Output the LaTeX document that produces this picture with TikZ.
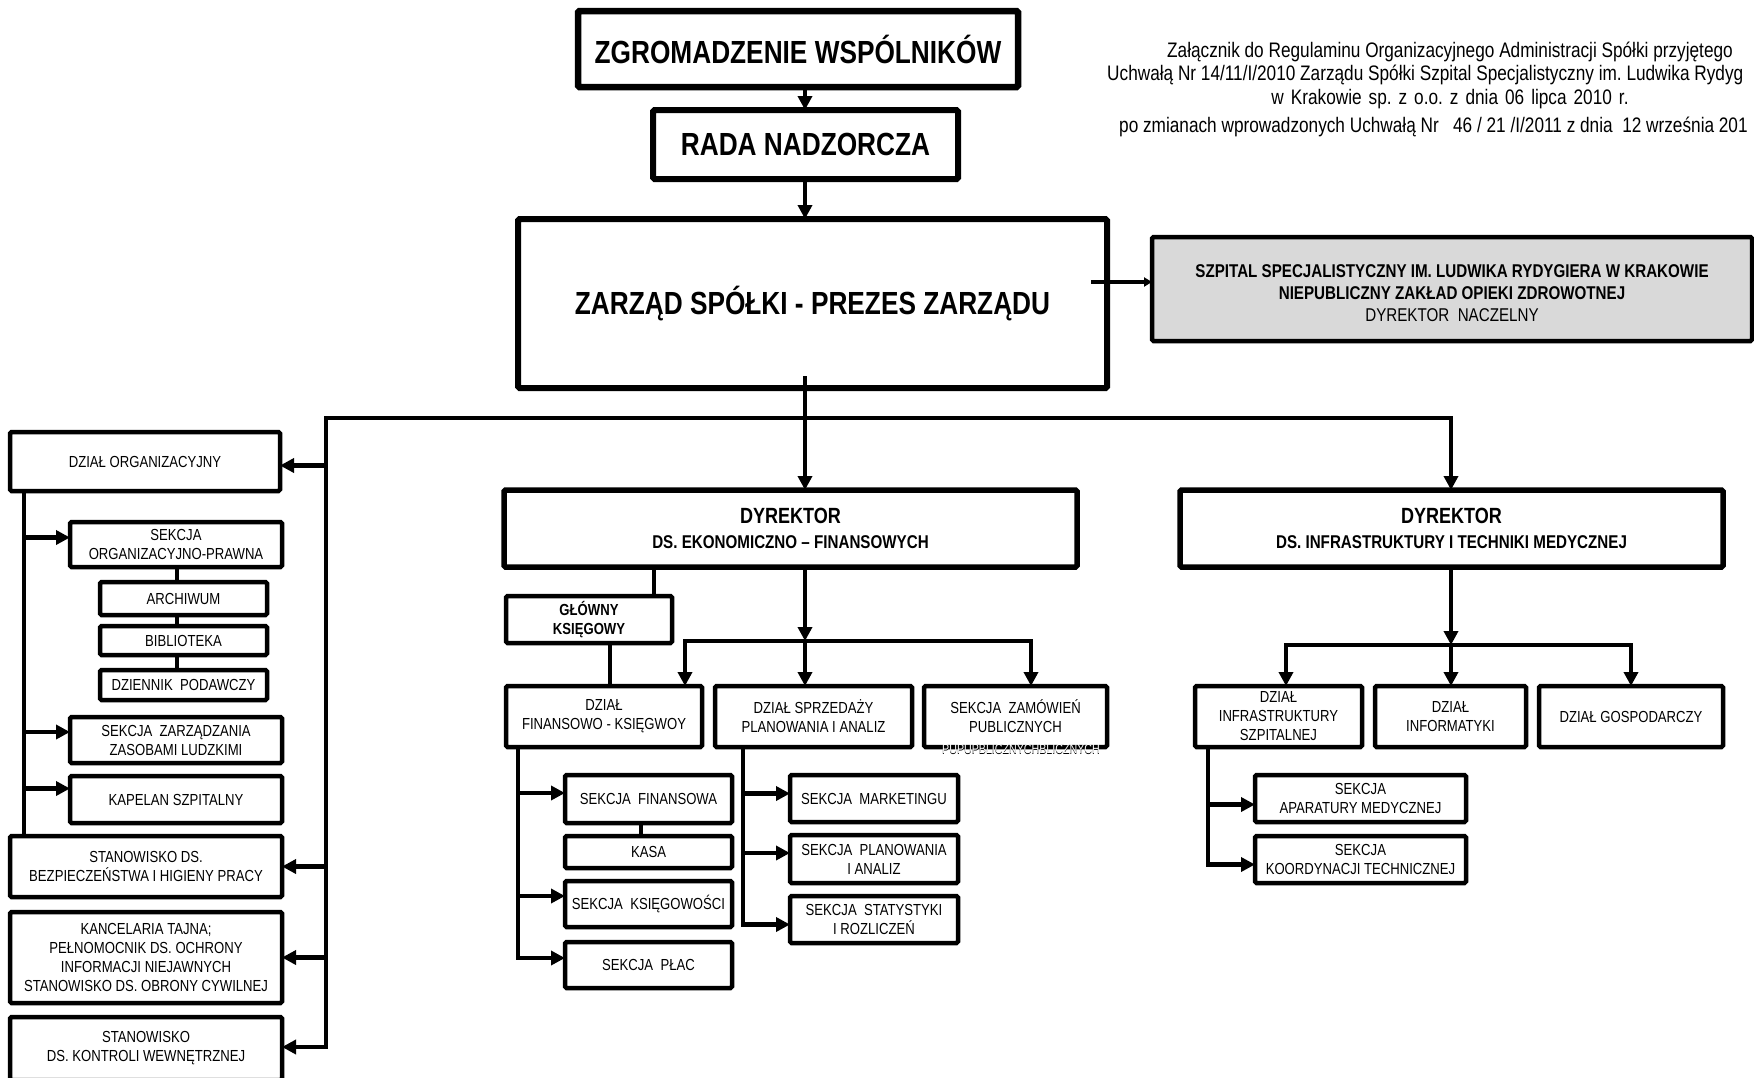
\documentclass[tikz,border=0pt]{standalone}
\usepackage{fontspec}
\setmainfont{Liberation Sans}[FakeStretch=0.82]
\usetikzlibrary{arrows.meta}
\frenchspacing
\newcommand{\orgbox}[7]{%
  \pgfmathsetmacro{\obw}{#5-#3}%
  \pgfmathsetmacro{\obh}{#6-#4}%
  \pgfmathsetmacro{\obx}{(#3+#5)/2}%
  \pgfmathsetmacro{\oby}{(#4+#6)/2}%
  \node[#1, minimum width=\obw pt, minimum height=\obh pt] (#2) at (\obx,\oby) {#7};%
}
\tikzset{
  bx/.style={draw, line width=4.5pt, fill=white, rounded corners=1.5pt, inner sep=0pt, outer sep=0pt, align=center, font=\fontsize{16}{19}\selectfont},
  bigbx/.style={bx, line width=6.5pt, font=\bfseries\fontsize{32}{36}\selectfont},
  dirbx/.style={bx, line width=5.5pt, font=\bfseries\fontsize{18.5}{25}\selectfont},
  graybx/.style={bx, fill=black!15, line width=4.5pt, font=\fontsize{18.5}{22.4}\selectfont},
  conn/.style={line width=4.5pt},
  arr/.style={conn, -{Triangle[length=14pt,width=14pt]}},
  hdr/.style={inner sep=0pt, font=\fontsize{21}{24}\selectfont},
}
\begin{document}
\begin{tikzpicture}[x=1pt, y=-1pt]
\useasboundingbox (0,0) rectangle (1754,1077);
\clip (0,0) rectangle (1754,1077);
\fill[white] (0,0) rectangle (1754,1077);

% header text
\node[hdr, anchor=base] (h1) at (1450,57) {Załącznik do Regulaminu Organizacyjnego Administracji Spółki przyjętego};
\node[hdr, anchor=base west] (h2) at (1107,80) {Uchwałą Nr 14/11/I/2010 Zarządu Spółki Szpital Specjalistyczny im. Ludwika Rydyg};
\node[hdr, anchor=base] (h3) at (1450,104) {\spaceskip=7pt w Krakowie sp. z o.o. z dnia 06 lipca 2010 r.};
\node[hdr, anchor=base west] (h4) at (1119,132) {po zmianach wprowadzonych Uchwałą Nr~~ 46 / 21 /I/2011 z dnia~ 12 września 201};

% top boxes
\orgbox{bigbx}{zgrom}{578}{11}{1018}{87}{ZGROMADZENIE WSPÓLNIKÓW}
\orgbox{bigbx, line width=6pt}{rada}{653}{110}{958}{179}{RADA NADZORCZA}
\orgbox{bigbx, line width=6pt}{zarzad}{518}{219}{1107}{388}{ZARZĄD SPÓŁKI - PREZES ZARZĄDU}
\orgbox{graybx}{gray}{1152}{237}{1752}{341}{\rule{0pt}{21pt}\textbf{SZPITAL SPECJALISTYCZNY IM. LUDWIKA RYDYGIERA W KRAKOWIE}\\\textbf{NIEPUBLICZNY ZAKŁAD OPIEKI ZDROWOTNEJ}\\DYREKTOR~ NACZELNY}

% left column
\orgbox{bx}{dorg}{10}{432}{280}{491}{DZIAŁ ORGANIZACYJNY}
\orgbox{bx}{sop}{70}{522}{282}{567}{SEKCJA\\ORGANIZACYJNO-PRAWNA}
\orgbox{bx}{arch}{100}{582}{267}{615}{ARCHIWUM}
\orgbox{bx}{bibl}{100}{626}{267}{655}{BIBLIOTEKA}
\orgbox{bx}{dzien}{100}{670}{267}{700}{DZIENNIK~ PODAWCZY}
\orgbox{bx}{zzl}{70}{717}{282}{763}{SEKCJA~ ZARZĄDZANIA\\ZASOBAMI LUDZKIMI}
\orgbox{bx}{kap}{70}{776}{282}{823}{KAPELAN SZPITALNY}
\orgbox{bx}{bhp}{10}{836}{282}{897}{STANOWISKO DS.\\BEZPIECZEŃSTWA I HIGIENY PRACY}
\orgbox{bx}{kanc}{10}{912}{282}{1003}{KANCELARIA TAJNA;\\PEŁNOMOCNIK DS. OCHRONY\\INFORMACJI NIEJAWNYCH\\STANOWISKO DS. OBRONY CYWILNEJ}
\orgbox{bx}{kontr}{10}{1017}{282}{1080}{STANOWISKO\\DS. KONTROLI WEWNĘTRZNEJ}

% middle column
\orgbox{dirbx}{dirEF}{504}{490}{1077}{567}{{\fontsize{22}{25}\selectfont DYREKTOR}\\DS. EKONOMICZNO – FINANSOWYCH}
\orgbox{bx, font=\bfseries\fontsize{16}{19}\selectfont}{gk}{506}{596}{672}{643}{GŁÓWNY\\KSIĘGOWY}
\orgbox{bx}{dfin}{506}{686}{702}{747}{DZIAŁ\\FINANSOWO - KSIĘGWOY}
\orgbox{bx}{dspr}{715}{686}{912}{747}{DZIAŁ SPRZEDAŻY\\PLANOWANIA I ANALIZ}
\orgbox{bx}{szam}{924}{686}{1107}{747}{SEKCJA~ ZAMÓWIEŃ\\PUBLICZNYCH}
\orgbox{bx}{sfin}{565}{775}{732}{823}{SEKCJA~ FINANSOWA}
\orgbox{bx}{kasa}{565}{836}{732}{868}{KASA}
\orgbox{bx}{sksi}{565}{881}{732}{927}{SEKCJA~ KSIĘGOWOŚCI}
\orgbox{bx}{splac}{565}{942}{732}{988}{SEKCJA~ PŁAC}
\orgbox{bx}{smark}{790}{775}{958}{822}{SEKCJA~ MARKETINGU}
\orgbox{bx}{splan}{790}{835}{958}{883}{SEKCJA~ PLANOWANIA\\I ANALIZ}
\orgbox{bx}{sstat}{790}{896}{958}{943}{SEKCJA~ STATYSTYKI\\I ROZLICZEŃ}

% right column
\orgbox{dirbx}{dirIT}{1180}{490}{1723}{567}{{\fontsize{22}{25}\selectfont DYREKTOR}\\DS. INFRASTRUKTURY I TECHNIKI MEDYCZNEJ}
\orgbox{bx}{dinfra}{1195}{686}{1362}{747}{DZIAŁ\\INFRASTRUKTURY\\SZPITALNEJ}
\orgbox{bx}{dinf}{1375}{686}{1526}{747}{DZIAŁ\\INFORMATYKI}
\orgbox{bx}{dgosp}{1539}{686}{1723}{747}{DZIAŁ GOSPODARCZY}
\orgbox{bx}{sapar}{1255}{775}{1466}{822}{SEKCJA\\APARATURY MEDYCZNEJ}
\orgbox{bx}{skoord}{1255}{836}{1466}{883}{SEKCJA\\KOORDYNACJI TECHNICZNEJ}

% stray text
\node[inner sep=0pt, font=\fontsize{13}{13}\selectfont] (junkA) at (1021,750) {PUPUPBLICZNYCHBLICZNYCH};
\node[inner sep=0pt, text=white, font=\fontsize{13}{13}\selectfont] (junkB) at (1021,749) {PUPUPBLICZNYCHBLICZNYCH};

% coordinates
\coordinate (xm) at (805,418);
\coordinate (busL) at (326,418);
\coordinate (busR) at (1451,418);
\coordinate (b2M) at (805,641);
\coordinate (b2L) at (685,641);
\coordinate (b2R) at (1031,641);
\coordinate (b3M) at (1451,645);
\coordinate (b3L) at (1286,645);
\coordinate (b3R) at (1631,645);
\coordinate (vOrg) at (24,0);
\coordinate (vSop) at (177,0);
\coordinate (vGkA) at (654,0);
\coordinate (vGkB) at (610,0);
\coordinate (vFin) at (518,0);
\coordinate (vKasa) at (641,0);
\coordinate (vSpr) at (743,0);
\coordinate (vInf) at (1208,0);
\coordinate (gIn) at ([yshift=7pt]gray.west);
\coordinate (dorgIn) at ([yshift=-4pt]dorg.east);
\coordinate (sopIn) at ([yshift=7pt]sop.west);
\coordinate (zzlIn) at ([yshift=8pt]zzl.west);
\coordinate (kapIn) at ([yshift=11pt]kap.west);
\coordinate (sfinIn) at ([yshift=6pt]sfin.west);
\coordinate (sksiIn) at ([yshift=8pt]sksi.west);
\coordinate (splacIn) at ([yshift=7pt]splac.west);
\coordinate (smarkIn) at ([yshift=5pt]smark.west);
\coordinate (splanIn) at ([yshift=6pt]splan.west);
\coordinate (sstatIn) at ([yshift=-5pt]sstat.west);
\coordinate (saparIn) at ([yshift=-6pt]sapar.west);
\coordinate (skoordIn) at ([yshift=-5pt]skoord.west);
\coordinate (kontrIn) at (kontr.east |- 0,1047);

% top connectors
\draw[arr] (zgrom.south -| xm) -- (rada.north -| xm);
\draw[arr] (rada.south -| xm) -- (zarzad.north -| xm);
\draw[conn, line width=4pt, -{Triangle[length=8pt,width=9pt]}] ([xshift=-16pt]zarzad.east |- gIn) -- (gIn);

% trunk and main bus
\draw[arr] ([yshift=12pt]zarzad.south -| xm) -- (dirEF.north -| xm);
\draw[arr, line width=4pt] (xm) -| (dirIT.north -| busR);
\draw[arr, line width=4pt] (xm) -| (busL |- kontrIn) -- (kontrIn);
\draw[arr] (busL |- dorgIn) -- (dorgIn);
\draw[arr] (busL |- bhp.east) -- (bhp.east);
\draw[arr] (busL |- kanc.east) -- (kanc.east);

% organisational department
\draw[conn] (vOrg |- dorg.south) -- (vOrg |- bhp.north);
\draw[arr] (vOrg |- sopIn) -- (sopIn);
\draw[arr] (vOrg |- zzlIn) -- (zzlIn);
\draw[arr] (vOrg |- kapIn) -- (kapIn);
\draw[conn] (sop.south -| vSop) -- (arch.north -| vSop);
\draw[conn] (arch.south -| vSop) -- (bibl.north -| vSop);
\draw[conn] (bibl.south -| vSop) -- (dzien.north -| vSop);

% economic director
\draw[conn] (dirEF.south -| vGkA) -- (gk.north -| vGkA);
\draw[conn] (gk.south -| vGkB) -- (dfin.north -| vGkB);
\draw[arr] (dirEF.south -| b2M) -- (b2M);
\draw[arr] (b2M) -| (dfin.north -| b2L);
\draw[arr] (b2M) -- (dspr.north -| b2M);
\draw[arr] (b2M) -| (szam.north -| b2R);

\draw[arr] (dfin.south -| vFin) |- (splacIn);
\draw[arr] (vFin |- sfinIn) -- (sfinIn);
\draw[arr] (vFin |- sksiIn) -- (sksiIn);
\draw[conn] (sfin.south -| vKasa) -- (kasa.north -| vKasa);

\draw[arr] (dspr.south -| vSpr) |- (sstatIn);
\draw[arr] (vSpr |- smarkIn) -- (smarkIn);
\draw[arr] (vSpr |- splanIn) -- (splanIn);

% infrastructure director
\draw[arr] (dirIT.south -| b3M) -- (b3M);
\draw[arr] (b3M) -| (dinfra.north -| b3L);
\draw[arr] (b3M) -- (dinf.north -| b3M);
\draw[arr] (b3M) -| (dgosp.north -| b3R);
\draw[arr] (dinfra.south -| vInf) |- (skoordIn);
\draw[arr] (vInf |- saparIn) -- (saparIn);
\end{tikzpicture}
\end{document}
